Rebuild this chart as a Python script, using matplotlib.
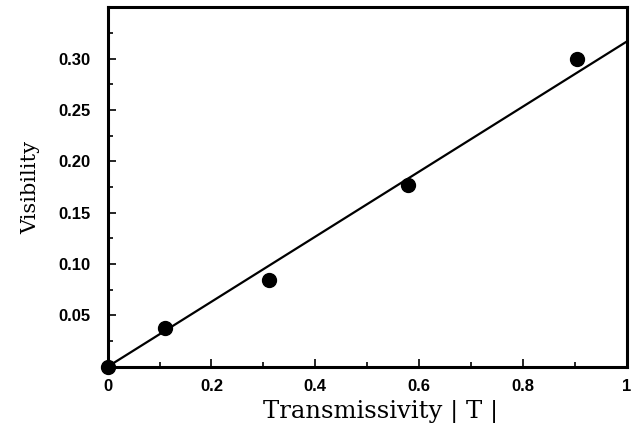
import numpy as np
import matplotlib
matplotlib.use("Agg")
import matplotlib.pyplot as plt
from matplotlib.ticker import MultipleLocator, FixedLocator

# measured points
trans = [0.0, 0.11, 0.311, 0.579, 0.904]
vis = [0.0, 0.038, 0.0844, 0.177, 0.2997]
# fitted line through origin
fit_x = [0.0, 1.0]
fit_y = [0.0, 0.3166]

xticks = [0, 0.2, 0.4, 0.6, 0.8, 1.0]
xticklabels = ["0", "0.2", "0.4", "0.6", "0.8", "1"]
yticks = [0.05, 0.10, 0.15, 0.20, 0.25, 0.30]
yticklabels = ["0.05", "0.10", "0.15", "0.20", "0.25", "0.30"]

fig = plt.figure(figsize=(6.37, 4.23), dpi=100)
ax = fig.add_axes([0.169, 0.133, 0.815, 0.850])

ax.plot(fit_x, fit_y, color="black", lw=1.6, clip_on=False)
ax.plot(trans, vis, "o", color="black", ms=10, clip_on=False)

ax.set_xlim(0, 1)
ax.set_ylim(0, 0.35)
ax.xaxis.set_major_locator(FixedLocator(xticks))
ax.set_xticklabels(xticklabels)
ax.xaxis.set_minor_locator(MultipleLocator(0.1))
ax.yaxis.set_major_locator(FixedLocator(yticks))
ax.set_yticklabels(yticklabels)
ax.yaxis.set_minor_locator(MultipleLocator(0.025))

ax.tick_params(which="both", direction="in", width=1.2, color="black")
ax.tick_params(which="major", length=6)
ax.tick_params(axis="y", which="major", pad=12)
ax.tick_params(axis="x", which="major", pad=9)
ax.tick_params(which="minor", length=3.5)
for lab in ax.get_xticklabels() + ax.get_yticklabels():
    lab.set_fontfamily("Liberation Sans")
    lab.set_fontweight("bold")
    lab.set_fontsize(12)
for sp in ax.spines.values():
    sp.set_linewidth(2.2)

ax.set_xlabel("Transmissivity | T |", fontsize=17.5, family="DejaVu Serif", labelpad=4)
ax.xaxis.label.set_x(0.525)
ax.set_ylabel("Visibility", fontsize=15, family="DejaVu Serif", labelpad=13)

fig.savefig("out.png", dpi=100)
